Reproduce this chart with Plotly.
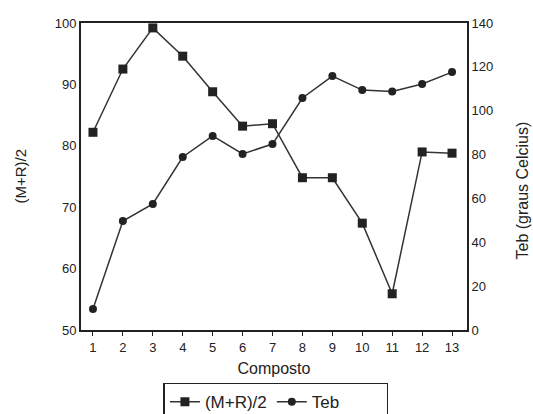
import plotly.graph_objects as go

composto = [1, 2, 3, 4, 5, 6, 7, 8, 9, 10, 11, 12, 13]
mr2 = [82.2, 92.5, 99.2, 94.6, 88.8, 83.2, 83.6, 74.8, 74.8, 67.4, 55.9, 79.0, 78.8]
teb = [9.6, 49.7, 57.5, 78.9, 88.5, 80.3, 84.8, 105.8, 115.8, 109.4, 108.8, 112.2, 117.6]

font = dict(family="Liberation Sans, Arial, sans-serif", color="#222", size=13)

fig = go.Figure()
fig.add_trace(go.Scatter(
    x=composto, y=mr2, name="(M+R)/2", mode="lines+markers",
    line=dict(color="#333", width=1.5),
    marker=dict(symbol="square", size=9, color="#222"),
))
fig.add_trace(go.Scatter(
    x=composto, y=teb, name="Teb" + "\u00a0" * 9, mode="lines+markers", yaxis="y2",
    line=dict(color="#333", width=1.5),
    marker=dict(symbol="circle", size=8, color="#222"),
))

fig.update_layout(
    width=533, height=414,
    margin=dict(l=81, r=66, t=23, b=84, autoexpand=False),
    paper_bgcolor="white", plot_bgcolor="white",
    font=font,
    showlegend=True,
    legend=dict(orientation="h", x=0.505, xanchor="center", y=-0.172, yanchor="top",
                bordercolor="#222", borderwidth=1.5, font=dict(size=17),
                itemwidth=30, tracegroupgap=0),
    xaxis=dict(range=[0.6, 13.5], tickmode="array", tickvals=composto,
               showline=True, linecolor="#222", linewidth=2, mirror=True,
               ticks="outside", ticklen=4, tickcolor="#222", showgrid=False,
               zeroline=False, automargin=False,
               title=dict(text="Composto", font=dict(size=16), standoff=9)),
    yaxis=dict(range=[50, 100], tickvals=[50, 60, 70, 80, 90, 100],
               showline=True, linecolor="#222", linewidth=2, automargin=False,
               ticks="", showgrid=False, zeroline=False),
    yaxis2=dict(range=[0, 140], tickvals=[0, 20, 40, 60, 80, 100, 120, 140],
                overlaying="y", side="right", automargin=False,
                showline=True, linecolor="#222", linewidth=2,
                ticks="", showgrid=False, zeroline=False),
    annotations=[
        dict(text="(M+R)/2", textangle=-90, xref="paper", yref="paper",
             x=-0.158, y=0.5, xanchor="center", yanchor="middle",
             showarrow=False, font=dict(size=15)),
        dict(text="Teb (graus Celcius)", textangle=-90, xref="paper", yref="paper",
             x=1.143, y=0.455, xanchor="center", yanchor="middle",
             showarrow=False, font=dict(size=16)),
    ],
)

fig.write_html("out.html")
